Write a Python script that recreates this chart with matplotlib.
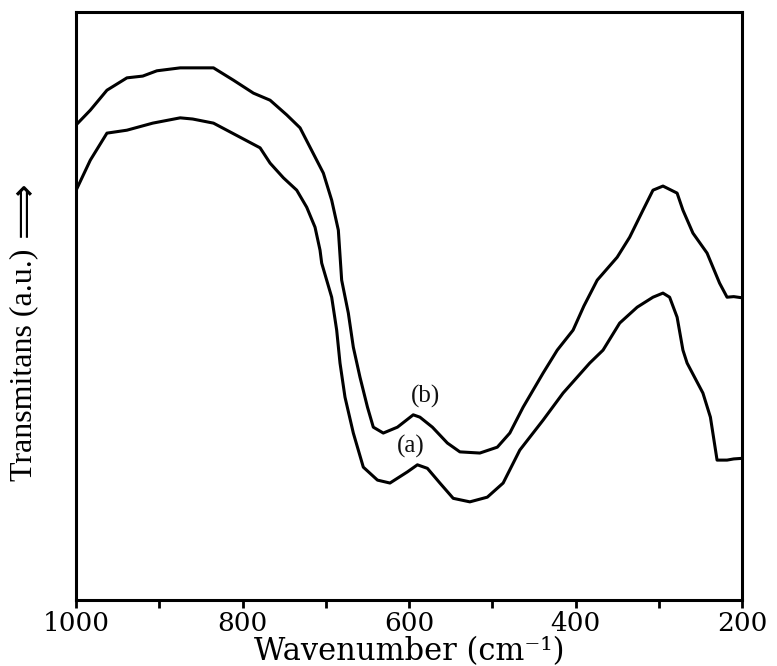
import matplotlib
matplotlib.use("Agg")
import matplotlib.pyplot as plt

# ---- data (wavenumber cm-1, transmittance a.u.) ----
wn_b = [1000, 983, 963, 939, 920, 903, 875, 835, 811, 787, 767, 747, 731, 719,
        703, 693, 685, 681, 673, 667, 659, 650, 643, 631, 614, 595, 587, 572,
        554, 539, 515, 494, 479, 463, 439, 422, 403, 390, 374, 350, 335, 319,
        307, 295, 278, 271, 259, 242, 227, 218, 210, 200]
tr_b = [80.8, 83.3, 86.7, 88.8, 89.1, 90.0, 90.5, 90.5, 88.4, 86.2, 85.0, 82.5,
        80.3, 77.0, 72.6, 68.0, 62.9, 54.4, 48.8, 43.0, 37.9, 32.8, 29.4, 28.4,
        29.4, 31.5, 31.1, 29.4, 26.7, 25.2, 25.0, 26.0, 28.4, 32.8, 38.6, 42.5,
        45.9, 50.0, 54.4, 58.3, 61.7, 66.3, 69.7, 70.4, 69.2, 66.3, 62.4, 59.0,
        53.9, 51.5, 51.6, 51.4]

wn_a = [1000, 983, 963, 939, 908, 875, 860, 835, 803, 779, 767, 751, 735, 723,
        713, 707, 705, 693, 687, 683, 677, 667, 655, 638, 623, 602, 590, 578,
        563, 547, 527, 506, 487, 467, 439, 415, 383, 367, 347, 326, 307, 295,
        287, 278, 271, 266, 247, 238, 230, 218, 210, 200]
tr_a = [69.7, 74.8, 79.4, 79.9, 81.1, 82.0, 81.8, 81.1, 78.7, 76.9, 74.3, 71.8,
        69.7, 66.8, 63.4, 59.5, 57.3, 51.5, 45.9, 40.3, 34.5, 28.4, 22.6, 20.4,
        19.9, 21.8, 23.0, 22.4, 19.9, 17.3, 16.7, 17.5, 19.9, 25.5, 30.6, 35.2,
        40.3, 42.5, 47.1, 49.8, 51.5, 52.2, 51.5, 48.1, 42.5, 40.3, 35.2, 31.1,
        23.8, 23.8, 24.0, 24.1]

labels = ["(a)", "(b)"]
label_pos = [(598, 26.2), (580, 34.6)]
x_ticks = [1000, 800, 600, 400, 200]

fig = plt.figure(figsize=(7.77, 6.66), dpi=100)
ax = fig.add_axes([0.098, 0.099, 0.857, 0.883])

ax.plot(wn_a, tr_a, color="black", lw=2.2, solid_joinstyle="round")
ax.plot(wn_b, tr_b, color="black", lw=2.2, solid_joinstyle="round")

for txt, (x, y) in zip(labels, label_pos):
    ax.text(x, y, txt, ha="center", va="center", fontsize=18,
            family="Liberation Serif", color="#111111")

ax.set_xlim(1000, 200)
ax.set_ylim(0, 100)
ax.set_xticks(x_ticks)
ax.set_xticks(range(900, 200, -200), minor=True)
ax.set_yticks([])
ax.tick_params(axis="x", which="both", direction="out", length=6, width=2,
               labelsize=19, pad=2)
for lab in ax.get_xticklabels():
    lab.set_family("DejaVu Serif")
for sp in ax.spines.values():
    sp.set_linewidth(2.2)

ax.set_xlabel("Wavenumber (cm\u207b\u00b9)", fontsize=22, family="DejaVu Serif",
              labelpad=0)
ax.text(-0.078, 0.40, "Transmitans (a.u.)", transform=ax.transAxes,
        rotation=90, ha="center", va="center", fontsize=23,
        family="Liberation Serif")
ax.text(-0.078, 0.665, "\u27f9", transform=ax.transAxes, rotation=90,
        ha="center", va="center", fontsize=28, family="DejaVu Sans")

fig.savefig("out.png", dpi=100)
